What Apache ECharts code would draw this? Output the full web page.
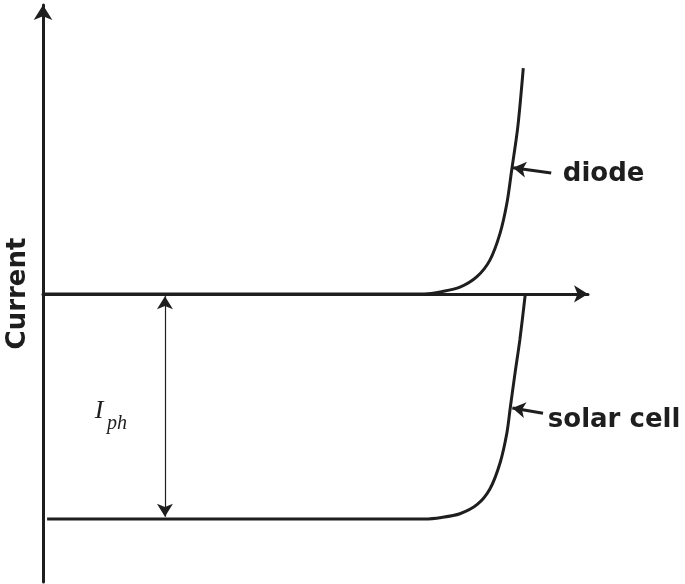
<!DOCTYPE html>
<html>
<head>
<meta charset="utf-8">
<script src="https://cdn.jsdelivr.net/npm/echarts@6/dist/echarts.min.js"></script>
<style>
  html, body { margin: 0; padding: 0; background: #fff; }
  #main { width: 685px; height: 584px; }
</style>
</head>
<body>
<div id="main"></div>
<script>
// voltage (V) / current (arb. units)
var diodeV = [0, 0.56, 0.585, 0.612, 0.637, 0.656, 0.671, 0.681, 0.688, 0.697, 0.705];
var diodeI = [0, 0, 0.03, 0.09, 0.23, 0.45, 0.81, 1.21, 1.65, 2.23, 3.01];
var solarV = [0.006, 0.56, 0.585, 0.612, 0.637, 0.656, 0.671, 0.681, 0.686, 0.693, 0.700, 0.708];
var solarI = [-3.0, -3.0, -2.98, -2.93, -2.81, -2.60, -2.25, -1.85, -1.51, -1.05, -0.61, 0];
var Iph = 3.0;

var ink = '#1e1e1e';

function pairs(xs, ys) {
  return xs.map(function (x, i) { return [x, ys[i]]; });
}

function textPoint(name, coord, style) {
  return {
    name: name,
    coord: coord,
    symbol: 'circle',
    symbolSize: 0,
    label: Object.assign({ show: true, position: 'right', distance: 0, formatter: name }, style)
  };
}

var boldLabel = { fontFamily: 'DejaVu Sans', fontWeight: 'bold', fontSize: 26, color: ink };
var serifI = { fontFamily: 'Liberation Serif', fontStyle: 'italic', fontSize: 26, color: ink };
var serifSub = { fontFamily: 'Liberation Serif', fontStyle: 'italic', fontSize: 20, color: ink };

var chart = echarts.init(document.getElementById('main'));
chart.setOption({
  animation: false,
  grid: { left: 43, right: 97, top: 5, bottom: 2, containLabel: false, outerBoundsMode: 'none' },
  xAxis: {
    type: 'value',
    min: 0,
    max: 0.8,
    axisLine: { onZero: true, symbol: ['none', 'arrow'], symbolSize: [13, 14], lineStyle: { color: ink, width: 3 } },
    axisTick: { show: false },
    axisLabel: { show: false },
    splitLine: { show: false }
  },
  yAxis: {
    type: 'value',
    min: -3.84,
    max: 3.85,
    name: 'Current',
    nameLocation: 'middle',
    nameRotate: 90,
    nameGap: 12,
    nameTextStyle: { fontFamily: 'DejaVu Sans', fontWeight: 'bold', fontSize: 26, color: ink },
    axisLine: { onZero: false, symbol: ['none', 'arrow'], symbolSize: [14, 15], lineStyle: { color: ink, width: 3 } },
    axisTick: { show: false },
    axisLabel: { show: false },
    splitLine: { show: false }
  },
  series: [
    {
      name: 'diode',
      type: 'line',
      data: pairs(diodeV, diodeI),
      showSymbol: false,
      smooth: 0.3,
      lineStyle: { color: ink, width: 3 },
      markLine: {
        silent: true,
        symbol: ['none', 'arrow'],
        symbolSize: [12, 13],
        label: { show: false },
        lineStyle: { color: ink, type: 'solid', width: 3 },
        data: [
          [{ coord: [0.746, 1.61] }, { coord: [0.690, 1.68] }],
          [{ coord: [0.734, -1.59] }, { coord: [0.689, -1.52] }],
          [
            { coord: [0.179, -0.03], symbol: 'arrow', lineStyle: { width: 1.2 } },
            { coord: [0.179, -Iph + 0.03], symbol: 'arrow', lineStyle: { width: 1.2 } }
          ]
        ]
      },
      markPoint: {
        silent: true,
        data: [
          textPoint('diode', [0.763, 1.60], boldLabel),
          textPoint('solar cell', [0.741, -1.68], boldLabel),
          textPoint('I', [0.076, -1.56], serifI),
          textPoint('ph', [0.094, -1.73], serifSub)
        ]
      }
    },
    {
      name: 'solar cell',
      type: 'line',
      data: pairs(solarV, solarI),
      showSymbol: false,
      smooth: 0.3,
      lineStyle: { color: ink, width: 3 }
    }
  ]
});
</script>
</body>
</html>
